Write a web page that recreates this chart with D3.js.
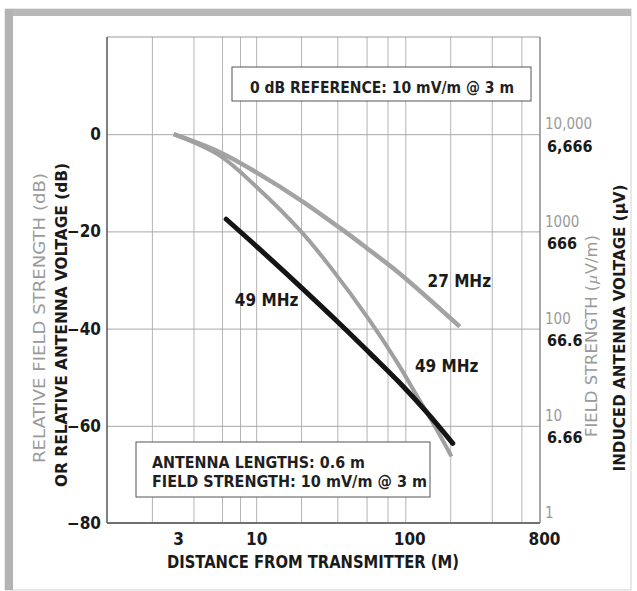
<!DOCTYPE html>
<html>
<head>
<meta charset="utf-8">
<script src="https://cdn.jsdelivr.net/npm/d3@7/dist/d3.min.js"></script>
<style>
  body { margin: 0; background: #fff; }
  svg text { font-family: "Liberation Sans Narrow", "DejaVu Sans Condensed", "Liberation Sans", sans-serif; }
</style>
</head>
<body>
<div id="wrapper"></div>
<script>
// curves (distance in m, level in dB)
const dist27 = [2.8, 5.7, 10.1, 19.7, 38, 55, 92, 232]
const db27 = [0, -3.7, -7.9, -13.5, -19.7, -23.4, -28.7, -39.6]

const dist49 = [2.8, 5.7, 10.1, 19.7, 31.2, 57.6, 88, 119, 162, 204]
const db49 = [0, -4.4, -10.9, -19.8, -27.2, -38.3, -46.9, -53.7, -60.7, -66.3]

const dist49Ant = [6.3, 10.6, 19.7, 36.6, 57.6, 92, 139, 208]
const db49Ant = [-17.5, -23.7, -31.3, -39.1, -45.0, -51.2, -57.2, -63.6]

// axes
const xTickLabels = [3, 10, 100, 800]
const xGrid = [2, 3.8, 5.9, 7.8, 10, 20, 35, 55, 76, 100, 200, 380, 600]
const yTicks = [0, -20, -40, -60, -80]
const yGrid = [0, -20, -40, -60]
const fieldLabels = ["10,000", "1000", "100", "10", "1"]      // uV/m, at yTicks
const voltLabels = ["6,666", "666", "66.6", "6.66"]           // uV, at yGrid

function drawChart(){
    const dimensions = {
        width: 637,
        height: 591,
        margin: { top: 37, right: 97, bottom: 68, left: 107 }
    }
    dimensions.boundedWidth = dimensions.width - dimensions.margin.left - dimensions.margin.right
    dimensions.boundedHeight = dimensions.height - dimensions.margin.top - dimensions.margin.bottom

    const wrapper = d3.select('#wrapper')
        .append('svg')
        .attr('width', dimensions.width)
        .attr('height', dimensions.height)

    // scanned frame
    wrapper.append('rect')
        .attr('x', 5).attr('y', 9).attr('width', 626).attr('height', 581)
        .attr('fill', '#fff').attr('stroke', '#d2d2d2').attr('stroke-width', 1)
    wrapper.append('rect').attr('x', 5).attr('y', 9).attr('width', 626).attr('height', 7).attr('fill', '#b8b8b8')
    wrapper.append('rect').attr('x', 5).attr('y', 9).attr('width', 8).attr('height', 581).attr('fill', '#b3b3b3')

    const bounds = wrapper.append('g')
        .attr('transform', `translate(${dimensions.margin.left},${dimensions.margin.top})`)

    const xScale = d3.scaleLog()
        .domain([1, 800])
        .range([0, dimensions.boundedWidth])

    const yScale = d3.scaleLinear()
        .domain([-80, 20])
        .range([dimensions.boundedHeight, 0])

    // grid
    const xGridAxis = d3.axisBottom(xScale)
        .tickValues(xGrid)
        .tickSize(-dimensions.boundedHeight)
        .tickFormat('')
    bounds.append('g')
        .attr('transform', `translate(0,${dimensions.boundedHeight})`)
        .call(xGridAxis)
        .call(g => g.select('.domain').remove())
        .call(g => g.selectAll('line').attr('stroke', '#b4b4b4').attr('stroke-width', 1))

    const yGridAxis = d3.axisLeft(yScale)
        .tickValues(yGrid)
        .tickSize(-dimensions.boundedWidth)
        .tickFormat('')
    bounds.append('g')
        .call(yGridAxis)
        .call(g => g.select('.domain').remove())
        .call(g => g.selectAll('line').attr('stroke', '#a8a8a8').attr('stroke-width', 1))

    // plot border
    bounds.append('line').attr('x1', 0).attr('x2', dimensions.boundedWidth).attr('y1', 0).attr('y2', 0)
        .attr('stroke', '#999').attr('stroke-width', 1.2)
    bounds.append('line').attr('x1', dimensions.boundedWidth).attr('x2', dimensions.boundedWidth)
        .attr('y1', 0).attr('y2', dimensions.boundedHeight)
        .attr('stroke', '#8a8a8a').attr('stroke-width', 1.5)
    bounds.append('line').attr('x1', 0).attr('x2', dimensions.boundedWidth)
        .attr('y1', dimensions.boundedHeight).attr('y2', dimensions.boundedHeight)
        .attr('stroke', '#707070').attr('stroke-width', 2)
    bounds.append('line').attr('x1', 0).attr('x2', 0).attr('y1', 0).attr('y2', dimensions.boundedHeight)
        .attr('stroke', '#555').attr('stroke-width', 1.5)

    // note boxes
    const topBox = bounds.append('g')
    topBox.append('rect')
        .attr('x', 125).attr('y', 30).attr('width', 299).attr('height', 34)
        .attr('fill', '#fff').attr('stroke', '#555').attr('stroke-width', 1)
    topBox.append('text')
        .attr('x', 143).attr('y', 56)
        .attr('font-size', 16).attr('font-weight', 'bold').attr('fill', '#1f1f1f')
        .attr('textLength', 264).attr('lengthAdjust', 'spacingAndGlyphs')
        .text('0 dB REFERENCE: 10 mV/m @ 3 m')

    const lowBox = bounds.append('g')
    lowBox.append('rect')
        .attr('x', 29).attr('y', 405).attr('width', 294).attr('height', 55)
        .attr('fill', '#fff').attr('stroke', '#555').attr('stroke-width', 1)
    lowBox.append('text')
        .attr('x', 45).attr('y', 431)
        .attr('font-size', 16).attr('font-weight', 'bold').attr('fill', '#1f1f1f')
        .attr('textLength', 213).attr('lengthAdjust', 'spacingAndGlyphs')
        .text('ANTENNA LENGTHS: 0.6 m')
    lowBox.append('text')
        .attr('x', 45).attr('y', 450)
        .attr('font-size', 16).attr('font-weight', 'bold').attr('fill', '#1f1f1f')
        .attr('textLength', 275).attr('lengthAdjust', 'spacingAndGlyphs')
        .text('FIELD STRENGTH: 10 mV/m @ 3 m')

    // curves
    const line = d3.line()
        .x(d => xScale(d[0]))
        .y(d => yScale(d[1]))
        .curve(d3.curveCatmullRom.alpha(0.5))

    const series = [
        { name: '27 MHz', pts: d3.zip(dist27, db27), color: '#a3a3a3', width: 4.5, cap: 'butt' },
        { name: '49 MHz', pts: d3.zip(dist49, db49), color: '#a0a0a0', width: 4, cap: 'butt' },
        { name: '49 MHz ant', pts: d3.zip(dist49Ant, db49Ant), color: '#141414', width: 5, cap: 'round' }
    ]
    bounds.selectAll('path.curve')
        .data(series)
        .join('path')
        .attr('class', 'curve')
        .attr('d', d => line(d.pts))
        .attr('fill', 'none')
        .attr('stroke', d => d.color)
        .attr('stroke-width', d => d.width)
        .attr('stroke-linecap', d => d.cap)

    // curve labels
    const curveLabels = [
        { text: '49 MHz', x: 7.2, y: -35.4 },
        { text: '27 MHz', x: 141, y: -31.4 },
        { text: '49 MHz', x: 116, y: -48.9 }
    ]
    bounds.selectAll('text.curveLabel')
        .data(curveLabels)
        .join('text')
        .attr('class', 'curveLabel')
        .attr('x', d => xScale(d.x))
        .attr('y', d => yScale(d.y))
        .attr('font-size', 17).attr('font-weight', 'bold').attr('fill', '#1a1a1a')
        .text(d => d.text)

    // left axis labels
    const yAxis = d3.axisLeft(yScale)
        .tickValues(yTicks)
        .tickSize(0)
        .tickPadding(6)
    bounds.append('g')
        .call(yAxis)
        .call(g => g.select('.domain').remove())
        .call(g => g.selectAll('text')
            .attr('font-size', 17).attr('font-weight', 'bold').attr('fill', '#1a1a1a')
            .attr('font-family', '"Liberation Sans Narrow", "DejaVu Sans Condensed", sans-serif'))

    // bottom axis labels
    const xAxis = d3.axisBottom(xScale)
        .tickValues(xTickLabels)
        .tickFormat(d3.format('d'))
        .tickSize(0)
        .tickPadding(10)
    bounds.append('g')
        .attr('transform', `translate(0,${dimensions.boundedHeight})`)
        .call(xAxis)
        .call(g => g.select('.domain').remove())
        .call(g => g.selectAll('text')
            .attr('dx', d => d >= 100 ? 4 : 0)
            .attr('font-size', 17).attr('font-weight', 'bold').attr('fill', '#1a1a1a')
            .attr('font-family', '"Liberation Sans Narrow", "DejaVu Sans Condensed", sans-serif'))

    // right side: field strength (grey) and antenna voltage (black)
    bounds.selectAll('text.field')
        .data(fieldLabels)
        .join('text')
        .attr('class', 'field')
        .attr('x', dimensions.boundedWidth + 5)
        .attr('y', (d, i) => yScale(yTicks[i]) - 10)
        .attr('dy', '0.35em')
        .attr('font-size', 15).attr('fill', '#9a9a9a')
        .text(d => d)

    bounds.selectAll('text.volt')
        .data(voltLabels)
        .join('text')
        .attr('class', 'volt')
        .attr('x', dimensions.boundedWidth + 7)
        .attr('y', (d, i) => yScale(yGrid[i]) + 12)
        .attr('dy', '0.35em')
        .attr('font-size', 16).attr('font-weight', 'bold').attr('fill', '#1a1a1a')
        .text(d => d)

    // axis titles
    wrapper.append('text')
        .attr('x', 313).attr('y', 568)
        .attr('text-anchor', 'middle')
        .attr('font-size', 17).attr('font-weight', 'bold').attr('fill', '#1a1a1a')
        .attr('textLength', 292).attr('lengthAdjust', 'spacingAndGlyphs')
        .text('DISTANCE FROM TRANSMITTER (M)')

    wrapper.append('text')
        .attr('transform', 'translate(45,318) rotate(-90)')
        .attr('text-anchor', 'middle')
        .attr('font-size', 15).attr('fill', '#9a9a9a')
        .attr('textLength', 290).attr('lengthAdjust', 'spacingAndGlyphs')
        .text('RELATIVE FIELD STRENGTH (dB)')

    wrapper.append('text')
        .attr('transform', 'translate(67,325) rotate(-90)')
        .attr('text-anchor', 'middle')
        .attr('font-size', 16).attr('font-weight', 'bold').attr('fill', '#1a1a1a')
        .attr('textLength', 324).attr('lengthAdjust', 'spacingAndGlyphs')
        .text('OR RELATIVE ANTENNA VOLTAGE (dB)')

    const fsTitle = wrapper.append('text')
        .attr('transform', 'translate(597,336) rotate(-90)')
        .attr('text-anchor', 'middle')
        .attr('font-size', 15).attr('fill', '#9a9a9a')
        .attr('textLength', 202).attr('lengthAdjust', 'spacingAndGlyphs')
    fsTitle.append('tspan').text('FIELD STRENGTH (')
    fsTitle.append('tspan').attr('font-style', 'italic').attr('font-family', '"Liberation Serif", serif').text('µ')
    fsTitle.append('tspan').text('V/m)')

    wrapper.append('text')
        .attr('transform', 'translate(625,328) rotate(-90)')
        .attr('text-anchor', 'middle')
        .attr('font-size', 16).attr('font-weight', 'bold').attr('fill', '#1a1a1a')
        .attr('textLength', 287).attr('lengthAdjust', 'spacingAndGlyphs')
        .text('INDUCED ANTENNA VOLTAGE (µV)')
}

drawChart()
</script>
</body>
</html>
